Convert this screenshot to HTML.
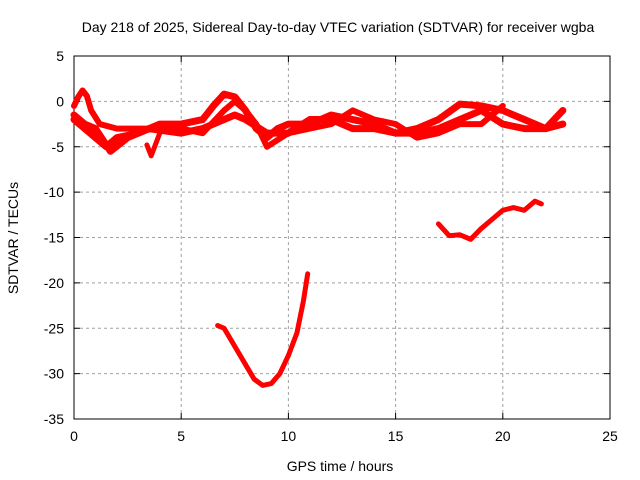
<!DOCTYPE html>
<html><head><meta charset="utf-8"><style>
body{margin:0;background:#fff}
svg{display:block;font-family:"Liberation Sans",sans-serif;font-size:14px}
</style></head><body>
<svg width="640" height="480" xmlns="http://www.w3.org/2000/svg">
<rect width="640" height="480" fill="#fff"/>
<g id="grid"></g>
<g id="axes"></g>
<g id="series"></g>
<text x="338" y="32" text-anchor="middle">Day 218 of 2025, Sidereal Day-to-day VTEC variation (SDTVAR) for receiver wgba</text>
<text x="340" y="471" text-anchor="middle">GPS time / hours</text>
<text transform="translate(18,238) rotate(-90)" text-anchor="middle">SDTVAR / TECUs</text>
</svg>
<script>
const xTicks=[0,5,10,15,20,25];
const yTicks=[5,0,-5,-10,-15,-20,-25,-30,-35];
const s1=[[0,-2],[0.5,-3],[1,-4],[1.5,-5],[2,-4],[3,-3.5],[4,-2.5],[5,-2.5],[6,-2],[6.5,-0.5],[7,0.8],[7.5,0.5],[8,-1],[8.5,-3],[9,-4],[9.5,-3],[10,-2.5],[11,-2.5],[12,-1.5],[13,-2],[14,-2.5],[15,-3.5],[16,-3],[17,-2],[18,-0.3],[19,-0.5],[20,-1],[21,-2],[22,-3],[22.8,-1]];
const s2=[[0,-1.5],[0.5,-2.5],[1,-3],[1.7,-5.5],[2.5,-4],[3.5,-3],[5,-3.5],[6,-3],[7,-2],[7.5,-1.5],[8,-2],[9,-3.5],[10,-3.5],[11,-2],[12,-2],[13,-3],[14,-3],[15,-3.5],[16,-3.5],[17,-3],[18,-2],[19,-1],[20,-2.5],[21,-3],[22,-3],[22.8,-2.5]];
const s3=[[0,-0.5],[0.2,0.5],[0.4,1.2],[0.6,0.6],[0.8,-1],[1.2,-2.5],[2,-3],[3,-3],[4,-3],[5,-3],[6,-3.5],[7,-1],[7.5,0],[8,-1],[8.5,-2.5],[9,-5],[10,-3.5],[11,-3],[12,-2.5],[13,-1],[14,-2],[15,-2.5],[16,-4],[17,-3.5],[18,-2.5],[19,-2.5],[20,-0.5]];
const s4=[[3.4,-4.8],[3.6,-6],[4,-3.5],[4.5,-2.5]];
const s5=[[17,-13.5],[17.5,-14.8],[18,-14.7],[18.5,-15.2],[19,-14],[19.5,-13],[20,-12],[20.5,-11.7],[21,-12],[21.5,-11],[21.8,-11.3]];
const s6=[[6.7,-24.7],[7,-25],[7.5,-27],[8,-29],[8.4,-30.6],[8.8,-31.3],[9.2,-31.1],[9.6,-30],[10,-28],[10.4,-25.5],[10.7,-22],[10.9,-19]];
const X0=74,X1=610,Y0=56,Y1=419;
const xs=v=>X0+(v-0)/25*(X1-X0);
const ys=v=>Y0+(5-v)/40*(Y1-Y0);
const NS="http://www.w3.org/2000/svg";
function mk(t,a,p){const e=document.createElementNS(NS,t);for(const k in a)e.setAttribute(k,a[k]);p.appendChild(e);return e;}
const grid=document.getElementById('grid'),axes=document.getElementById('axes'),ser=document.getElementById('series');
xTicks.forEach(t=>{const x=xs(t);
 if(t>0&&t<25){const g=mk('line',{x1:x,x2:x,y1:Y0,y2:Y1,stroke:'#a0a0a0','stroke-dasharray':'3,3'},grid);}
 mk('line',{x1:x,x2:x,y1:Y1,y2:Y1-6,stroke:'#000'},axes);mk('line',{x1:x,x2:x,y1:Y0,y2:Y0+6,stroke:'#000'},axes);
 const l=mk('text',{x:x,y:Y1+22,'text-anchor':'middle'},axes);l.textContent=t;});
yTicks.forEach(t=>{const y=ys(t);
 if(t<5&&t>-35){const g=mk('line',{x1:X0,x2:X1,y1:y,y2:y,stroke:'#a0a0a0','stroke-dasharray':'3,3'},grid);}
 mk('line',{x1:X0,x2:X0+6,y1:y,y2:y,stroke:'#000'},axes);mk('line',{x1:X1,x2:X1-6,y1:y,y2:y,stroke:'#000'},axes);
 const l=mk('text',{x:X0-10,y:y+5,'text-anchor':'end'},axes);l.textContent=t;});
const fr=mk('rect',{x:X0,y:Y0,width:X1-X0,height:Y1-Y0,fill:'none',stroke:'#000'},axes);

[[s1,7],[s2,7],[s3,6],[s4,5],[s5,5],[s6,5]].forEach(([d,w],i)=>{
 const p=mk('polyline',{points:d.map(q=>xs(q[0])+','+ys(q[1])).join(' '),fill:'none',stroke:'#ff0000','stroke-width':w,'stroke-linejoin':'round','stroke-linecap':'round'},ser);
 
 });
</script>
</body></html>
